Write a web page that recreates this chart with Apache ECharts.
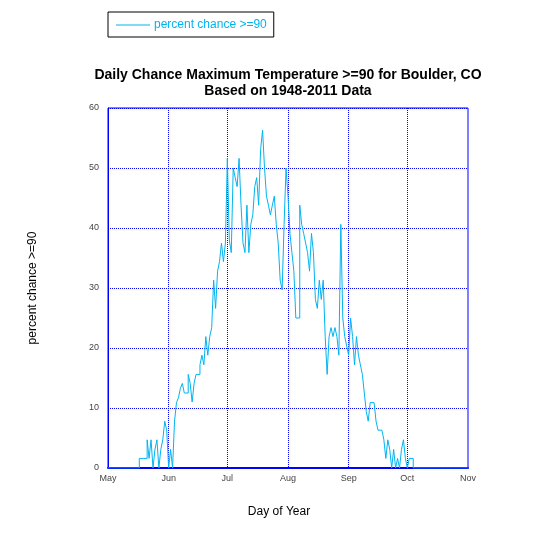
<!DOCTYPE html>
<html>
<head>
<meta charset="utf-8">
<script src="https://cdn.jsdelivr.net/npm/echarts@6/dist/echarts.min.js"></script>
<style>html,body{margin:0;padding:0;background:#fff;}#c{width:540px;height:540px;}</style>
</head>
<body>
<div id="c"></div>
<script>
const monthNames = ['May', 'Jun', 'Jul', 'Aug', 'Sep', 'Oct', 'Nov'];
const monthLengths = [31, 30, 31, 31, 30, 31, 1];
const yTicks = [0, 10, 20, 30, 40, 50, 60];
const seriesName = 'percent chance >=90';
const chanceValues = [
  0,0,0,0,0,0,0,0,0,0,0,0,0,0,0,
  0,1.6,1.6,1.6,1.6,4.7,1.6,4.7,0,3.1,
  4.7,0,3.1,4.7,7.8,6.3,0,3.1,0,7.8,
  10.9,11.7,13.3,14.1,12.5,12.5,15.6,14.1,11.0,14.1,
  15.6,15.6,17.2,18.8,17.2,21.9,18.8,21.9,23.4,31.3,
  26.6,32.8,34.4,37.5,34.4,37.5,51.6,38.0,35.9,50.0,
  48.4,46.9,51.6,43.8,37.5,35.9,43.8,35.9,40.6,42.2,
  46.9,48.4,43.8,53.1,56.3,50.0,45.3,43.8,42.2,43.8,
  45.3,40.6,37.5,31.3,29.7,40.6,50.0,45.3,39.1,35.9,
  32.8,25.0,25.0,43.8,40.6,39.1,37.5,35.9,32.8,39.1,
  35.9,28.1,26.6,31.3,28.1,31.3,21.9,15.6,21.9,23.4,
  21.9,23.4,21.9,18.8,40.6,25.0,21.9,20.3,18.8,25.0,
  21.9,17.2,21.9,18.8,17.2,15.6,12.5,9.4,7.8,10.9,
  10.9,10.9,7.8,6.3,6.3,6.3,4.7,1.6,4.7,3.1,
  0,3.1,0,1.6,0,3.1,4.7,1.6,0,1.6,
  1.6,0,0,0,0,0,0,0,0,0,
  0,0,0,0,0,0,0,0,0,0,
  0,0,0,0,0,0,0,0,0,0
];

const dayLabels = [];
const monthStartIdx = {};
let idx = 0;
monthNames.forEach((m, i) => {
  monthStartIdx[idx] = m;
  for (let d = 1; d <= monthLengths[i]; d++) { dayLabels.push(m + ' ' + d); idx++; }
});
const isMonthStart = (i) => Object.prototype.hasOwnProperty.call(monthStartIdx, i);

const chart = echarts.init(document.getElementById('c'));
const font = 'Liberation Sans, Arial, sans-serif';
chart.setOption({
  animation: false,
  backgroundColor: '#fff',
  textStyle: { fontFamily: font },
  title: {
    text: 'Daily Chance Maximum Temperature >=90 for Boulder, CO\nBased on 1948-2011 Data',
    left: 288, top: 67, padding: 0, textAlign: 'center',
    textStyle: { fontSize: 14, fontWeight: 'bold', color: '#000', lineHeight: 16, fontFamily: font }
  },
  legend: {
    left: 108, top: 12, orient: 'horizontal',
    padding: [7, 7, 6, 8], borderColor: '#000', borderWidth: 1,
    itemWidth: 34, itemHeight: 1, itemGap: 4,
    textStyle: { color: '#00b4f0', fontSize: 12, fontFamily: font, padding: [0, 0, 0, -1] },
    data: [{ name: seriesName, icon: 'rect', itemStyle: { color: '#00b4f0' } }]
  },
  grid: {
    left: 108, right: 72, top: 108, bottom: 72,
    show: true, borderColor: '#0000ff', borderWidth: 1, containLabel: false
  },
  xAxis: {
    type: 'category', data: dayLabels, boundaryGap: false,
    name: 'Day of Year', nameLocation: 'middle', nameGap: 38,
    nameTextStyle: { fontSize: 12, color: '#000', padding: [0, 18, 0, 0] },
    axisLine: { lineStyle: { color: '#0000ff', width: 2 } },
    axisTick: { show: false },
    axisLabel: {
      interval: (i) => isMonthStart(i), fontSize: 9, color: '#444', margin: 6,
      formatter: (v, i) => monthStartIdx[i] || ''
    },
    splitLine: { show: true, interval: (i) => isMonthStart(i) && i !== 0 && i !== 184, lineStyle: { color: '#0000ff', type: 'dotted', width: 1 } }
  },
  yAxis: {
    type: 'value', min: yTicks[0], max: yTicks[yTicks.length - 1], interval: 10,
    name: 'percent chance >=90', nameLocation: 'middle', nameGap: 69, nameRotate: 90,
    nameTextStyle: { fontSize: 12, color: '#000' },
    axisLine: { show: true, lineStyle: { color: '#0000ff', width: 1 } },
    axisTick: { show: false },
    axisLabel: { fontSize: 9, color: '#444', margin: 9 },
    splitLine: { show: true, lineStyle: { color: '#0000ff', type: 'dotted', width: 1 } }
  },
  series: [{
    name: seriesName, type: 'line', step: 'end', data: chanceValues,
    symbol: 'none', showSymbol: false,
    lineStyle: { color: '#00b4f0', width: 1 }, itemStyle: { color: '#00b4f0' }
  }]
});
</script>
</body>
</html>
